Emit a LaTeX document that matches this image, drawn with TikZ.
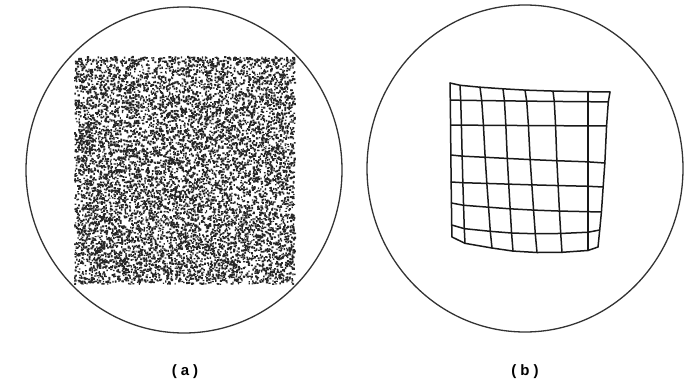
\documentclass[tikz,border=0pt]{standalone}
\usepackage{fontspec}
\setsansfont{Liberation Sans}
\begin{document}
\begin{tikzpicture}[x=1pt,y=-1pt,
  rim/.style={draw=black!80, line width=1.3pt},
  gridline/.style={draw=black!90, line width=1.5pt, line join=round, line cap=round},
  speck/.style={fill=black!85},
  caption/.style={font=\sffamily\bfseries\fontsize{15}{17}\selectfont, inner sep=0pt}]
\useasboundingbox (0,0) rectangle (688,385);
% circles
\draw[rim] (184,170) ellipse [x radius=158, y radius=163];
\draw[rim] (525,168.5) ellipse [x radius=158, y radius=163.5];
% stippled square (a)
\pgfmathsetseed{4242}
\foreach \k in {1,...,10}{
  \fill[speck] \foreach \i in {1,...,950} {
    ({74+220*rnd},{58+227*rnd}) rectangle ++({1.1+1.2*rnd},{-1.1-1.2*rnd})
  };
}
% distorted grid (b)
\def\xtop{{450,460,480,503,525,553,588,610}}
\def\xbot{{452,465,492,513,537,562,588,598}}
\def\yleft{{83,100,125,155,182,203,225,237}}
\def\yright{{92,102,126,163,187,212,230,247}}
\def\sag{{2,0,0,0,0,2,6,10}}
\foreach \u in {0,...,7}{
  \foreach \v in {0,...,7}{
    \pgfmathparse{\xtop[\u]}\let\xa\pgfmathresult
    \pgfmathparse{\xbot[\u]}\let\xb\pgfmathresult
    \pgfmathparse{\yleft[\v]}\let\ya\pgfmathresult
    \pgfmathparse{\yright[\v]}\let\yb\pgfmathresult
    \pgfmathparse{\sag[\v]}\let\sg\pgfmathresult
    \pgfmathsetmacro\s{\u/7}
    \pgfmathsetmacro\t{\v/7}
    \pgfmathsetmacro\px{(1-\t)*\xa+\t*\xb}
    \pgfmathsetmacro\py{(1-\s)*\ya+\s*\yb+\sg*4*\s*(1-\s)}
    \coordinate (g-\u-\v) at (\px,\py);
  }
}
\foreach \v in {0,...,7}
  \draw[gridline] (g-0-\v) \foreach \u in {1,...,7}{ -- (g-\u-\v)};
\foreach \u in {0,...,7}
  \draw[gridline] (g-\u-0) \foreach \v in {1,...,7}{ -- (g-\u-\v)};
% captions
\node[caption] (la) at (185,372) {(\hspace{4pt}a\hspace{4pt})};
\node[caption] (lb) at (525,372) {(\hspace{4pt}b\hspace{4pt})};
\end{tikzpicture}
\end{document}
